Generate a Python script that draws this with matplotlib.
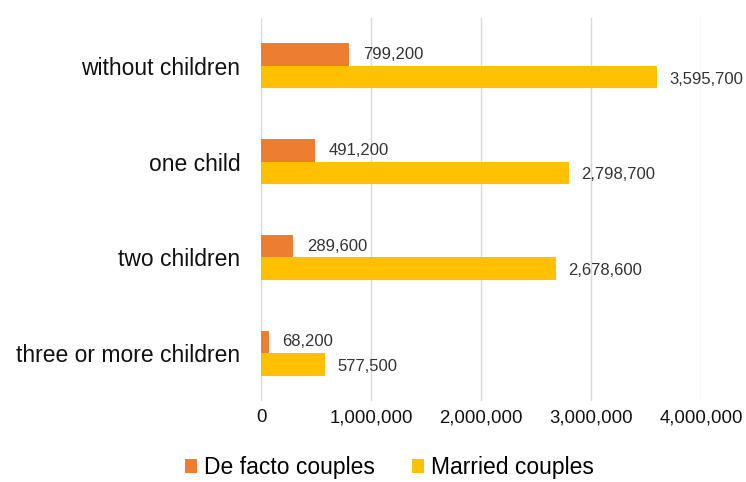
import matplotlib.pyplot as plt
import numpy as np

# ----------------------------
# Data
# ----------------------------
categories = ["without children", "one child", "two children", "three or more children"]
de_facto = [799200, 491200, 289600, 68200]
married = [3595700, 2798700, 2678600, 577500]
xticks = [0, 1000000, 2000000, 3000000, 4000000]

orange = "#ED7D31"
yellow = "#FFC000"

plt.rcParams["font.family"] = ["Liberation Sans", "DejaVu Sans"]

fig = plt.figure(figsize=(7.46, 4.82), dpi=100)
ax = fig.add_axes([0.35, 0.168, 0.5897, 0.795])

y = np.arange(len(categories))
h = 0.235

ax.barh(y - h / 2, de_facto, height=h, color=orange, label="De facto couples", zorder=3)
ax.barh(y + h / 2, married, height=h, color=yellow, label="Married couples", zorder=3)

# value labels
for yi, v in zip(y, de_facto):
    ax.annotate(f"{v:,}", (v, yi - h / 2), xytext=(10, 0), textcoords="offset points",
                ha="left", va="center", fontsize=12, color="#333333")
for yi, v in zip(y, married):
    ax.annotate(f"{v:,}", (v, yi + h / 2), xytext=(9, -1.5), textcoords="offset points",
                ha="left", va="center", fontsize=12, color="#333333")

ax.set_ylim(len(categories) - 0.5, -0.5)
ax.set_xlim(0, 4000000)
ax.set_yticks(y)
ax.set_yticklabels(categories, fontsize=16.5, color="#111111")
ax.set_xticks(xticks)
ax.set_xticklabels([f"{t:,}" for t in xticks], fontsize=13.4, color="#111111")
ax.tick_params(axis="both", length=0)
ax.tick_params(axis="y", pad=15)
ax.tick_params(axis="x", pad=6)

ax.grid(axis="x", color="#d9d9d9", linewidth=1, zorder=0)
for s in ax.spines.values():
    s.set_visible(False)

fig.legend(loc="center", bbox_to_anchor=(0.522, 0.03), ncol=2, frameon=False,
           fontsize=16.5, handlelength=0.55, handleheight=0.55, handletextpad=0.3,
           columnspacing=1.6, borderpad=0.1)

fig.savefig("out.png", dpi=100)
